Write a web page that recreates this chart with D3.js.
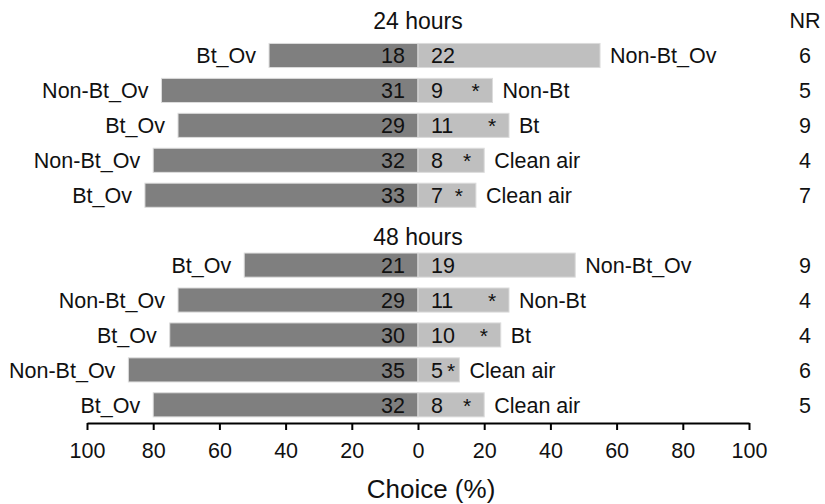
<html>
<head>
<style>
body { margin: 0; background: #fff; }
text { font-family: "Liberation Sans", Arial, sans-serif; fill: #111; }
.bar { stroke: #dcdcdc; stroke-width: 1; }
.axis path, .axis line { stroke: #000; stroke-width: 2; }
.axis text { font-size: 21.5px; }
</style>
</head>
<body>
<div id="vis"></div>
<script src="https://cdn.jsdelivr.net/npm/d3@7"></script>
<script>
// chart values
var groups = ["24 hours", "48 hours"];
var rowGroup = [0, 0, 0, 0, 0, 1, 1, 1, 1, 1];
var leftNames = ["Bt_Ov", "Non-Bt_Ov", "Bt_Ov", "Non-Bt_Ov", "Bt_Ov",
                 "Bt_Ov", "Non-Bt_Ov", "Bt_Ov", "Non-Bt_Ov", "Bt_Ov"];
var rightNames = ["Non-Bt_Ov", "Non-Bt", "Bt", "Clean air", "Clean air",
                  "Non-Bt_Ov", "Non-Bt", "Bt", "Clean air", "Clean air"];
var leftCounts = [18, 31, 29, 32, 33, 21, 29, 30, 35, 32];
var rightCounts = [22, 9, 11, 8, 7, 19, 11, 10, 5, 8];
var nonResponders = [6, 5, 9, 4, 7, 9, 4, 4, 6, 5];
var significant = [false, true, true, true, true, false, true, true, true, true];
var xTicks = [-100, -80, -60, -40, -20, 0, 20, 40, 60, 80, 100];

var width = 825, height = 504;

var data = leftCounts.map(function(d, i) {
	var total = d + rightCounts[i];
	return {
		id: "r" + i,
		group: rowGroup[i],
		leftName: leftNames[i],
		rightName: rightNames[i],
		left: d,
		right: rightCounts[i],
		leftPct: d / total * 100,
		rightPct: rightCounts[i] / total * 100,
		nr: nonResponders[i],
		sig: significant[i]
	};
});

// slots: header, 5 rows, header, 5 rows
var slots = [];
groups.forEach(function(g, gi) {
	slots.push("h" + gi);
	data.filter(function(d) { return d.group === gi; })
		.forEach(function(d) { slots.push(d.id); });
});

var x = d3.scaleLinear().domain([-100, 100]).range([87, 749]);
var y = d3.scaleBand()
	.domain(slots)
	.range([3.1, 422.3])
	.paddingInner(0.31)
	.paddingOuter(0.155);

var svg = d3.select("#vis").append("svg")
	.attr("width", width)
	.attr("height", height);

var mid = function(id) { return y(id) + y.bandwidth() / 2; };

// group headers
svg.selectAll(".groupTitle")
		.data(groups)
	.enter().append("text")
		.attr("class", "groupTitle")
		.attr("x", x(0))
		.attr("y", function(d, i) { return mid("h" + i) + 8 + (i ? 7 : 0); })
		.attr("text-anchor", "middle")
		.style("font-size", "23px")
		.text(function(d) { return d; });

svg.append("text")
	.attr("x", 805)
	.attr("y", mid("h0") + 7)
	.attr("text-anchor", "middle")
	.style("font-size", "21.5px")
	.text("NR");

// bars
svg.selectAll(".leftBar")
		.data(data)
	.enter().append("rect")
		.attr("class", "bar leftBar")
		.attr("x", function(d) { return x(-d.leftPct); })
		.attr("y", function(d) { return y(d.id); })
		.attr("width", function(d) { return x(0) - x(-d.leftPct); })
		.attr("height", y.bandwidth())
		.attr("fill", "#7f7f7f");

svg.selectAll(".rightBar")
		.data(data)
	.enter().append("rect")
		.attr("class", "bar rightBar")
		.attr("x", x(0))
		.attr("y", function(d) { return y(d.id); })
		.attr("width", function(d) { return x(d.rightPct) - x(0); })
		.attr("height", y.bandwidth())
		.attr("fill", "#bfbfbf");

var rowText = function(cls, xf, anchor, tf) {
	svg.selectAll("." + cls)
			.data(data)
		.enter().append("text")
			.attr("class", cls)
			.attr("x", xf)
			.attr("y", function(d) { return mid(d.id) + 7.7; })
			.attr("text-anchor", anchor)
			.style("font-size", "21.5px")
			.text(tf);
};

rowText("leftName", function(d) { return x(-d.leftPct) - 13; }, "end", function(d) { return d.leftName; });
rowText("rightName", function(d) { return x(d.rightPct) + 10; }, "start", function(d) { return d.rightName; });
rowText("leftCount", x(0) - 13, "end", function(d) { return d.left; });
rowText("rightCount", x(0) + 13, "start", function(d) { return d.right; });
rowText("nr", 805, "middle", function(d) { return d.nr; });

// significance stars, kept clear of the count
svg.selectAll(".star")
		.data(data.filter(function(d) { return d.sig; }))
	.enter().append("text")
		.attr("class", "star")
		.attr("x", function(d) {
			var afterCount = x(0) + 13 + String(d.right).length * 12 + 8;
			return Math.max(x(d.rightPct) - 17, afterCount);
		})
		.attr("y", function(d) { return mid(d.id) + 8; })
		.attr("text-anchor", "middle")
		.style("font-size", "21px")
		.text("*");

// x axis
svg.append("g")
	.attr("class", "axis")
	.attr("transform", "translate(0,423)")
	.call(d3.axisBottom(x)
		.tickValues(xTicks)
		.tickSize(7)
		.tickSizeOuter(0)
		.tickPadding(13)
		.tickFormat(function(d) { return Math.abs(d); }));

svg.append("text")
	.attr("x", 431)
	.attr("y", 498)
	.attr("text-anchor", "middle")
	.style("font-size", "26px")
	.text("Choice (%)");
</script>
</body>
</html>
